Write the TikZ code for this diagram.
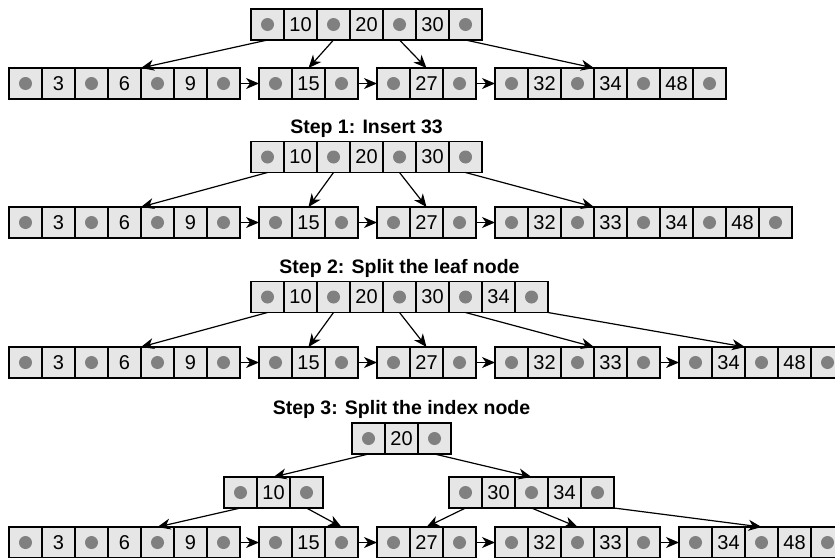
\documentclass[tikz,border=0pt]{standalone}
\usepackage{fontspec}
\setmainfont{Liberation Sans}
\usetikzlibrary{arrows.meta,positioning}
\definecolor{cellfill}{HTML}{E6E6E6}
\definecolor{dotgray}{HTML}{808080}

% one B+ tree node: pointer, key, pointer, ..., pointer
\newcommand{\bpnode}[3]{%
  \node[ptrcell, anchor=north west] (#1-0) at (#2) {};
  \foreach \k [count=\i] in {#3} {
    \pgfmathtruncatemacro{\kc}{2*\i-1}
    \pgfmathtruncatemacro{\pc}{2*\i}
    \pgfmathtruncatemacro{\kb}{2*\i-2}
    \node[keycell, right=0pt of #1-\kb] (#1-\kc) {\k};
    \node[ptrcell, right=0pt of #1-\kc] (#1-\pc) {};
  }%
}

\begin{document}
\begin{tikzpicture}[x=1pt, y=-1pt,
  bcell/.style={draw, line width=1.1pt, fill=cellfill, minimum width=33pt, minimum height=31pt, inner sep=0pt, outer sep=0pt, font=\fontsize{20}{22}\selectfont},
  keycell/.style={bcell},
  ptrcell/.style={bcell, path picture={\fill[dotgray] (path picture bounding box.center) circle (6.5pt);}},
  title/.style={font=\fontsize{19.5}{22}\selectfont\bfseries, inner sep=0pt},
  arr/.style={-{Stealth[length=13pt, width=11pt, inset=4pt]}, line width=1.2pt}]
\useasboundingbox (0,0) rectangle (835,557);

% the tree before the insert
\bpnode{a}{251,9}{10,20,30}
\bpnode{a1}{9,68}{3,6,9}
\bpnode{a2}{259,68}{15}
\bpnode{a3}{377,68}{27}
\bpnode{a4}{495,68}{32,34,48}
\draw[arr] (a-0.south) -- (a1-4.north west);
\draw[arr] (a-2.south) -- (a2-1.north);
\draw[arr] (a-4.south) -- (a3-1.north);
\draw[arr] (a-6.south) -- (a4-3.north west);
\foreach \a/\b in {a1-6/a2-0,a2-2/a3-0,a3-2/a4-0} \draw[arr] (\a.east) -- (\b.west);

% step 1
\bpnode{b}{251,141.5}{10,20,30}
\node[title, above=4pt of b-3] (t1) {Step 1: Insert 33};
\bpnode{b1}{9,207}{3,6,9}
\bpnode{b2}{259,207}{15}
\bpnode{b3}{377,207}{27}
\bpnode{b4}{495,207}{32,33,34,48}
\draw[arr] (b-0.south) -- (b1-4.north west);
\draw[arr] (b-2.south) -- (b2-1.north);
\draw[arr] (b-4.south) -- (b3-1.north);
\draw[arr] (b-6.south) -- (b4-3.north west);
\foreach \a/\b in {b1-6/b2-0,b2-2/b3-0,b3-2/b4-0} \draw[arr] (\a.east) -- (\b.west);

% step 2
\bpnode{c}{251,281.5}{10,20,30,34}
\node[title, above=4pt of c-4] (t2) {Step 2: Split the leaf node};
\bpnode{c1}{9,347}{3,6,9}
\bpnode{c2}{259,347}{15}
\bpnode{c3}{377,347}{27}
\bpnode{c4}{495,347}{32,33}
\bpnode{c5}{679,347}{34,48}
\draw[arr] (c-0.south) -- (c1-4.north west);
\draw[arr] (c-2.south) -- (c2-1.north);
\draw[arr] (c-4.south) -- (c3-1.north);
\draw[arr] (c-6.south) -- (c4-3.north west);
\draw[arr] (c-8.south east) -- (c5-2.north west);
\foreach \a/\b in {c1-6/c2-0,c2-2/c3-0,c3-2/c4-0,c4-4/c5-0} \draw[arr] (\a.east) -- (\b.west);

% step 3
\bpnode{d}{352,423}{20}
\node[title, above=4pt of d-1] (t3) {Step 3: Split the index node};
\bpnode{dl}{224,477}{10}
\bpnode{dr}{449,477}{30,34}
\bpnode{d1}{9,527}{3,6,9}
\bpnode{d2}{259,527}{15}
\bpnode{d3}{377,527}{27}
\bpnode{d4}{495,527}{32,33}
\bpnode{d5}{679,527}{34,48}
\draw[arr] (d-0.south) -- (dl-1.north);
\draw[arr] (d-2.south) -- (dr-2.north);
\draw[arr] (dl-0.south) -- (d1-4.north);
\draw[arr] (dl-2.south) -- (d2-2.north);
\draw[arr] (dr-0.south) -- (d3-1.north);
\draw[arr] (dr-2.south) -- (d4-2.north);
\draw[arr] (dr-4.south east) -- (d5-2.north);
\foreach \a/\b in {d1-6/d2-0,d2-2/d3-0,d3-2/d4-0,d4-4/d5-0} \draw[arr] (\a.east) -- (\b.west);
\end{tikzpicture}
\end{document}
